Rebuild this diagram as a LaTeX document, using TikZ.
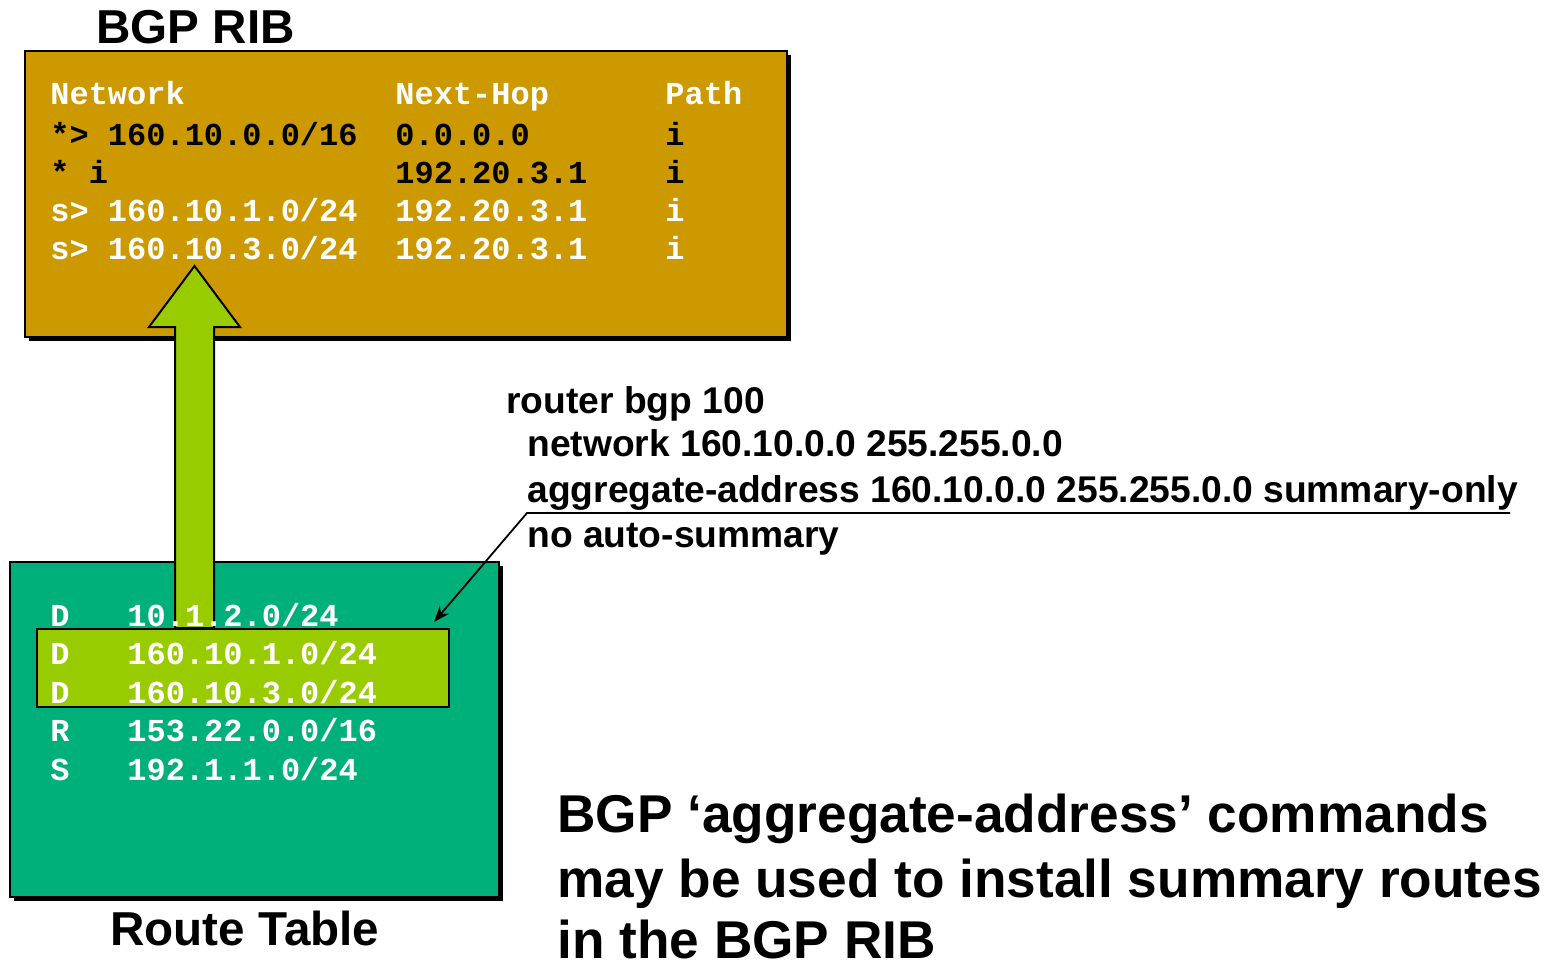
\documentclass[tikz,border=0pt]{standalone}
\usepackage{fontspec}
\setmainfont{Liberation Sans}
\setmonofont{Liberation Mono}
\usepackage{tikz}
\usetikzlibrary{arrows.meta,shadows}
\definecolor{ribgold}{HTML}{CC9900}
\definecolor{rtgreen}{HTML}{00B07A}
\definecolor{lime}{HTML}{99CC00}

\begin{document}
\begin{tikzpicture}[x=0.5pt,y=-0.5pt,
        tablebox/.style={draw=black,line width=1pt,anchor=north west,inner sep=0pt,
            drop shadow={shadow xshift=2pt,shadow yshift=-2pt,fill=black,opacity=1}},
        celltext/.style={anchor=base west,inner sep=0pt,font=\ttfamily\bfseries\fontsize{16}{18}\selectfont},
        title/.style={anchor=base west,inner sep=0pt,font=\bfseries\fontsize{23.8}{28}\selectfont},
        cfg/.style={anchor=base west,inner sep=0pt,font=\bfseries\fontsize{18.6}{22}\selectfont},
        note/.style={anchor=base west,inner sep=0pt,font=\bfseries\fontsize{26.6}{32}\selectfont},
        pointer/.style={draw=black,line width=0.9pt,-{Stealth[length=8pt,width=6pt]}},
        bigarrow/.style={fill=lime,draw=black,line width=1pt}]
    \useasboundingbox (0,0) rectangle (1560,960);

    % BGP RIB
    \node[title] (ribtitle) at (96,43) {BGP RIB};
    \node[tablebox,fill=ribgold,minimum width=381pt,minimum height=143pt] (rib) at (24,50) {};
    \node[celltext,text=white] (hnet) at (50,104) {Network};
    \node[celltext,text=white] (hhop) at (395,104) {Next-Hop};
    \node[celltext,text=white] (hpath) at (665,104) {Path};
    \foreach \net/\hop/\clr [count=\r] in {{*> 160.10.0.0/16}/{0.0.0.0}/black,
            {* i}/{192.20.3.1}/black,
            {s> 160.10.1.0/24}/{192.20.3.1}/white,
            {s> 160.10.3.0/24}/{192.20.3.1}/white} {
        \node[celltext,text=\clr] (net\r) at (50,{107+38*\r}) {\net};
        \node[celltext,text=\clr] (hop\r) at (395,{107+38*\r}) {\hop};
        \node[celltext,text=\clr] (path\r) at (665,{107+38*\r}) {i};
    }

    % route table
    \node[tablebox,fill=rtgreen,minimum width=244.5pt,minimum height=167.5pt] (rt) at (9,561) {};
    \node[title] (rttitle) at (110,945) {Route Table};

    % redistribution arrow
    \draw[bigarrow] (175,628) -- (175,327) -- (149,327) -- (194.5,266)
        -- (240,327) -- (214,327) -- (214,628) -- cycle;
    \node[draw=black,line width=1pt,fill=lime,anchor=north west,inner sep=0pt,
        minimum width=206pt,minimum height=39pt] (hl) at (36,628) {};

    \foreach \src/\pfx [count=\r] in {D/{10.1.2.0/24},D/{160.10.1.0/24},D/{160.10.3.0/24},
            R/{153.22.0.0/16},S/{192.1.1.0/24}} {
        \node[celltext,text=white] (src\r) at (50,{587.5+38.5*\r}) {\src};
        \node[celltext,text=white] (pfx\r) at (127,{587.5+38.5*\r}) {\pfx};
    }

    % config
    \node[cfg] (cfg1) at (506,413) {router bgp 100};
    \node[cfg] (cfg2) at (527,456) {network 160.10.0.0 255.255.0.0};
    \node[cfg] (cfg3) at (527,502) {aggregate-address 160.10.0.0 255.255.0.0 summary-only};
    \node[cfg] (cfg4) at (527,547) {no auto-summary};
    \coordinate (ulend) at (1510,513);
    \coordinate (ulknee) at (527,513);
    \draw[pointer] (ulend) -- (ulknee) -- ([xshift=-8pt,yshift=3pt]hl.north east);

    % note
    \node[note] (note1) at (557,832) {BGP ‘aggregate-address’ commands};
    \node[note] (note2) at (557,897) {may be used to install summary routes};
    \node[note] (note3) at (557,958) {in the BGP RIB};
\end{tikzpicture}
\end{document}
